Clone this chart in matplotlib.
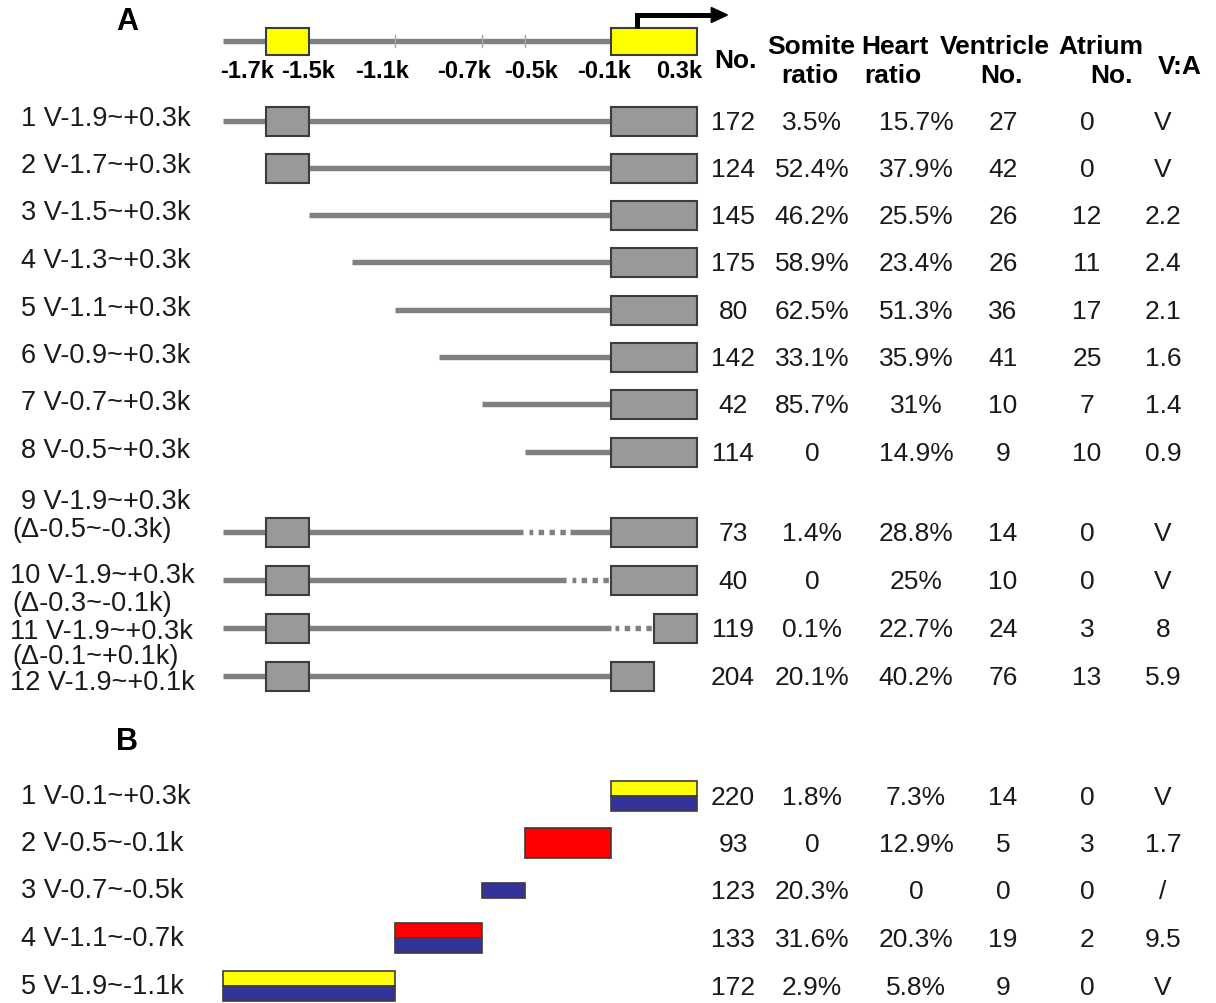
import matplotlib
matplotlib.use("Agg")
import matplotlib.pyplot as plt
from matplotlib.patches import Rectangle, Polygon
from matplotlib.transforms import Affine2D

# ---- data -------------------------------------------------------------
# header map (kb)
map_ticks = [-1.1, -0.7, -0.5]
map_tick_labels = ["-1.7k", "-1.5k", "-1.1k", "-0.7k", "-0.5k", "-0.1k", "0.3k"]
map_line = (-1.9, -0.1)
map_boxes = [(-1.7, -1.5), (-0.1, 0.3)]

# panel A constructs
labels_A = ["1 V-1.9~+0.3k", "2 V-1.7~+0.3k", "3 V-1.5~+0.3k", "4 V-1.3~+0.3k",
            "5 V-1.1~+0.3k", "6 V-0.9~+0.3k", "7 V-0.7~+0.3k", "8 V-0.5~+0.3k",
            "9 V-1.9~+0.3k", "10 V-1.9~+0.3k", "11 V-1.9~+0.3k", "12 V-1.9~+0.1k"]
deletion_labels_A = [None] * 8 + ["(Δ-0.5~-0.3k)", "(Δ-0.3~-0.1k)", "(Δ-0.1~+0.1k)", None]
line_start_A = [-1.9, -1.7, -1.5, -1.3, -1.1, -0.9, -0.7, -0.5, -1.9, -1.9, -1.9, -1.9]
line_end_A = [-0.1] * 12
up_box_A = [True, True, False, False, False, False, False, False, True, True, True, True]
down_box_A = [(-0.1, 0.3)] * 10 + [(0.1, 0.3), (-0.1, 0.1)]
deleted_A = [None] * 8 + [(-0.5, -0.3), (-0.3, -0.1), (-0.1, 0.1), None]

no_A = ["172", "124", "145", "175", "80", "142", "42", "114", "73", "40", "119", "204"]
somite_A = ["3.5%", "52.4%", "46.2%", "58.9%", "62.5%", "33.1%", "85.7%", "0",
            "1.4%", "0", "0.1%", "20.1%"]
heart_A = ["15.7%", "37.9%", "25.5%", "23.4%", "51.3%", "35.9%", "31%", "14.9%",
           "28.8%", "25%", "22.7%", "40.2%"]
ventricle_A = ["27", "42", "26", "26", "36", "41", "10", "9", "14", "10", "24", "76"]
atrium_A = ["0", "0", "12", "11", "17", "25", "7", "10", "0", "0", "3", "13"]
va_A = ["V", "V", "2.2", "2.4", "2.1", "1.6", "1.4", "0.9", "V", "V", "8", "5.9"]

# panel B fragments (layers top -> bottom)
labels_B = ["1 V-0.1~+0.3k", "2 V-0.5~-0.1k", "3 V-0.7~-0.5k", "4 V-1.1~-0.7k",
            "5 V-1.9~-1.1k"]
spans_B = [(-0.1, 0.3), (-0.5, -0.1), (-0.7, -0.5), (-1.1, -0.7), (-1.9, -1.1)]
layers_B = [["Y", "B"], ["R", "R"], ["B"], ["R", "B"], ["Y", "B"]]

no_B = ["220", "93", "123", "133", "172"]
somite_B = ["1.8%", "0", "20.3%", "31.6%", "2.9%"]
heart_B = ["7.3%", "12.9%", "0", "20.3%", "5.8%"]
ventricle_B = ["14", "5", "0", "19", "9"]
atrium_B = ["0", "3", "0", "2", "0"]
va_B = ["V", "1.7", "/", "9.5", "V"]

# ---- layout -----------------------------------------------------------
W, H = 1216, 1004
PX_PER_KB = 215.6
KB0_PX = 611          # pixel x of -0.1k
kb_left = -0.1 - KB0_PX / PX_PER_KB
kb_right = -0.1 + (W - KB0_PX) / PX_PER_KB

rows_A = [122, 169, 216, 263, 311, 358, 405, 453, 533, 581, 629, 677]
label_y_A = [119, 166, 213, 261, 309, 356, 403, 451, 502, 576, 632, 683]
label_x_A = [21] * 9 + [10, 10, 10]
del_y_A = [None] * 8 + [530, 604, 657, None]
rows_B = [797, 844, 891, 939, 987]
col_x = [733, 812, 916, 1003, 1087, 1163]
tick_label_x = [247, 308, 382, 464, 531, 604, 679]

grey_line = "#808080"
box_grey = "#999999"
edge = "#3c3c3c"
txt = "#1a1a1a"
layer_colors = {"Y": "#ffff00", "B": "#333399", "R": "#ff0000"}

plt.rcParams["font.family"] = ["Liberation Sans", "DejaVu Sans"]

fig = plt.figure(figsize=(W / 100, H / 100), dpi=100)
ax = fig.add_axes([0, 0, 1, 1])
ax.set_xlim(kb_left, kb_right)
ax.set_ylim(H, 0)
ax.axis("off")

# pixel transform for text (y down)
pix = Affine2D().scale(1 / W, -1 / H).translate(0, 1) + fig.transFigure


def ptext(x, y, s, **kw):
    kw.setdefault("ha", "center")
    kw.setdefault("va", "center")
    kw.setdefault("color", txt)
    fig.text(x, y, s, transform=pix, **kw)


# ---- header map -------------------------------------------------------
LW = 3.9
ax.plot(map_line, [42, 42], color=grey_line, lw=LW, solid_capstyle="butt", zorder=1)
for t in map_ticks:
    ax.plot([t, t], [36, 48], color="#a8a8a8", lw=1, zorder=1)
for x0, x1 in map_boxes:
    ax.add_patch(Rectangle((x0, 29), x1 - x0, 27, facecolor="#ffff00",
                           edgecolor=edge, lw=1.5, zorder=2))
for lab, x in zip(map_tick_labels, tick_label_x):
    ptext(x, 71, lab, fontsize=17, fontweight="bold", color="black")

# transcription start arrow
tss = 0.02
ax.plot([tss, tss, 0.37], [29, 16, 16], color="black", lw=3.6,
        solid_joinstyle="miter", solid_capstyle="butt", zorder=3)
ax.add_patch(Polygon([(0.365, 8.5), (0.44, 16), (0.365, 23.5)],
                     closed=True, color="black", zorder=3))

ptext(127, 22, "A", fontsize=22, fontweight="bold", color="black")
ptext(127, 742, "B", fontsize=22, fontweight="bold", color="black")

# column headers
hdr = dict(fontsize=19, fontweight="bold", color="black")
ptext(735, 61, "No.", **hdr)
ptext(811, 47, "Somite", **hdr)
ptext(810, 76, "ratio", **hdr)
ptext(895, 47, "Heart", **hdr)
ptext(893, 76, "ratio", **hdr)
ptext(995, 47, "Ventricle", **hdr)
ptext(1001, 76, "No.", **hdr)
ptext(1101, 47, "Atrium", **hdr)
ptext(1112, 76, "No.", **hdr)
ptext(1180, 67, "V:A", **hdr)

# ---- panel A ----------------------------------------------------------
BH = 29
for i, y in enumerate(rows_A):
    start, end = line_start_A[i], line_end_A[i]
    dele = deleted_A[i]
    if dele is not None and dele[1] <= end:
        ax.plot([start, dele[0] - 0.01], [y, y], color=grey_line, lw=LW,
                solid_capstyle="butt", zorder=1)
        ax.plot([dele[1] + 0.01, end], [y, y], color=grey_line, lw=LW,
                solid_capstyle="butt", zorder=1)
    else:
        ax.plot([start, end], [y, y], color=grey_line, lw=LW,
                solid_capstyle="butt", zorder=1)
    if dele is not None:
        ax.plot([dele[0] + 0.02, dele[1] - 0.01], [y, y], color=grey_line, lw=LW,
                linestyle=(0.3, (1.0, 1.0)), dash_capstyle="butt", zorder=1)
    if up_box_A[i]:
        ax.add_patch(Rectangle((map_boxes[0][0], y - BH / 2),
                               map_boxes[0][1] - map_boxes[0][0], BH,
                               facecolor=box_grey, edgecolor=edge, lw=1.5, zorder=2))
    d0, d1 = down_box_A[i]
    ax.add_patch(Rectangle((d0, y - BH / 2), d1 - d0, BH,
                           facecolor=box_grey, edgecolor=edge, lw=1.5, zorder=2))

    ptext(label_x_A[i], label_y_A[i], labels_A[i], fontsize=19.5, ha="left")
    if deletion_labels_A[i]:
        ptext(12, del_y_A[i], deletion_labels_A[i], fontsize=19.5, ha="left")

    for cx, col in zip(col_x, [no_A, somite_A, heart_A, ventricle_A, atrium_A, va_A]):
        ptext(cx, y + 1, col[i], fontsize=19)

# ---- panel B ----------------------------------------------------------
BHB = 30
for i, y in enumerate(rows_B):
    x0, x1 = spans_B[i]
    lay = layers_B[i]
    if len(lay) == 1:
        ax.add_patch(Rectangle((x0, y - BHB / 4), x1 - x0, BHB / 2,
                               facecolor=layer_colors[lay[0]], edgecolor=edge,
                               lw=1.2, zorder=2))
    elif lay[0] == lay[1]:
        ax.add_patch(Rectangle((x0, y - BHB / 2), x1 - x0, BHB,
                               facecolor=layer_colors[lay[0]], edgecolor=edge,
                               lw=1.2, zorder=2))
    else:
        ax.add_patch(Rectangle((x0, y - BHB / 2), x1 - x0, BHB / 2,
                               facecolor=layer_colors[lay[0]], edgecolor=edge,
                               lw=1.2, zorder=2))
        ax.add_patch(Rectangle((x0, y), x1 - x0, BHB / 2,
                               facecolor=layer_colors[lay[1]], edgecolor=edge,
                               lw=1.2, zorder=2))

    ptext(21, y, labels_B[i], fontsize=19.5, ha="left")
    for cx, col in zip(col_x, [no_B, somite_B, heart_B, ventricle_B, atrium_B, va_B]):
        ptext(cx, y + 1, col[i], fontsize=19)

fig.savefig("out.png", dpi=100, facecolor="white")
